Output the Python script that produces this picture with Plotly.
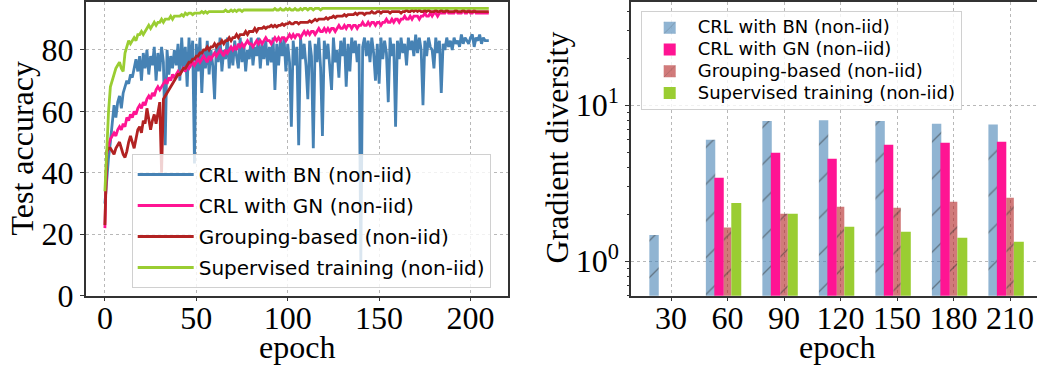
import plotly.graph_objects as go

# ---------------- data: left panel (test accuracy per epoch) ----------------
epochs = list(range(0, 211))

acc_bn = [
    30, 38, 45, 50, 55, 62, 58, 63, 65, 61,
    66, 68, 70, 69, 72, 71, 74, 77, 73, 78,
    70, 79, 74, 80, 72, 78, 75, 81, 70, 79,
    73, 81, 76, 49, 80, 72, 78, 74, 80, 75,
    82, 70, 84, 74, 81, 68, 84, 75, 83, 43,
    82, 73, 84, 66, 80, 74, 83, 72, 80, 75,
    64, 82, 76, 84, 73, 80, 77, 84, 74, 81,
    75, 83, 78, 74, 84, 76, 82, 73, 80, 77,
    84, 75, 81, 78, 84, 74, 82, 77, 83, 75,
    81, 76, 84, 67, 82, 75, 83, 78, 84, 73,
    82, 76, 55, 83, 75, 81, 49, 84, 77, 82,
    75, 64, 83, 78, 48, 82, 76, 84, 74, 52,
    83, 77, 82, 75, 67, 84, 76, 80, 71, 83,
    78, 84, 68, 82, 73, 84, 79, 83, 76, 82,
    11, 81, 84, 78, 83, 76, 84, 79, 70, 82,
    69, 84, 77, 83, 79, 63, 84, 78, 82, 55,
    83, 77, 84, 79, 82, 75, 84, 80, 83, 78,
    85, 79, 84, 80, 62, 83, 78, 84, 81, 80,
    74, 84, 79, 83, 66, 82, 80, 84, 81, 83,
    80, 84, 82, 83, 81, 85, 82, 84, 83, 82,
    84, 85, 81, 84, 83, 85, 82, 84, 83, 83,
    83,
]

acc_gn = [
    22, 46, 49, 51, 52, 53, 52, 54, 55, 54,
    56, 55, 58, 57, 59, 58, 60, 59, 61, 62,
    61, 63, 62, 64, 65, 64, 66, 65, 67, 68,
    67, 68, 69, 70, 69, 71, 70, 72, 71, 72,
    73, 72, 73, 74, 73, 75, 74, 75, 76, 75,
    76, 77, 76, 77, 78, 77, 76, 78, 77, 78,
    79, 78, 79, 80, 79, 78, 80, 79, 80, 81,
    80, 81, 80, 82, 81, 82, 81, 82, 83, 82,
    82, 81, 82, 83, 82, 83, 82, 83, 84, 83,
    83, 82, 83, 84, 83, 84, 83, 84, 84, 83,
    84, 85, 84, 85, 84, 85, 85, 84, 85, 86,
    85, 86, 85, 86, 86, 85, 86, 87, 86, 86,
    87, 86, 87, 86, 87, 87, 86, 87, 88, 87,
    87, 88, 87, 88, 88, 87, 88, 88, 87, 88,
    88, 89, 88, 88, 89, 88, 89, 89, 88, 89,
    89, 88, 89, 89, 90, 89, 89, 90, 89, 90,
    90, 89, 90, 90, 91, 90, 90, 91, 90, 91,
    91, 91, 90, 91, 91, 92, 91, 91, 92, 91,
    92, 92, 91, 92, 92, 92, 92, 93, 92, 92,
    92, 92, 93, 92, 92, 92, 93, 92, 92, 93,
    92, 92, 93, 92, 92, 92, 92, 92, 92, 92,
    92,
]

acc_group = [
    23, 47, 48, 48, 47, 46, 48, 49, 50, 48,
    46, 45, 47, 50, 52, 50, 48, 51, 54, 55,
    53, 57, 56, 61, 58, 54, 57, 59, 56, 60,
    63, 40, 64, 65, 66, 67, 68, 69, 70, 71,
    72, 72, 73, 74, 74, 75, 76, 76, 77, 77,
    78, 78, 79, 79, 80, 80, 81, 80, 81, 81,
    82, 81, 82, 82, 83, 82, 83, 83, 84, 83,
    84, 84, 85, 84, 85, 85, 85, 86, 85, 86,
    86, 86, 87, 86, 87, 87, 87, 87.5, 87, 87.5,
    87.5, 88, 87.5, 88, 87.5, 88, 88, 88.5, 88, 88.5,
    88.5, 89, 88.5, 88.5, 89, 89, 88.5, 89, 89, 89,
    89, 89, 89.5, 89, 89.5, 90, 89.5, 90, 90, 90,
    90, 90.5, 90, 90.5, 90.5, 91, 90.5, 91, 91, 91,
    91, 91.5, 91, 91.5, 91.5, 91.5, 91.5, 92, 91.5, 92,
    92, 92, 91.5, 92, 92, 92, 92.5, 92, 92, 92.5,
    92.5, 92, 92.5, 92.5, 92.5, 92.5, 92, 92.5, 92.5, 92.5,
    92.5, 92.5, 92, 92.5, 92.5, 93, 92.5, 92.5, 93, 92.5,
    93, 92.5, 93, 92.5, 92.5, 93, 92.5, 93, 92.5, 92.5,
    92.5, 93, 92.5, 92.5, 93, 92.5, 92.5, 93, 92.5, 92.5,
    92.5, 92.5, 93, 92.5, 92.5, 92.5, 93, 92.5, 92.5, 92.5,
    92.5, 92.5, 92.5, 92.5, 92.5, 92.5, 92.5, 92.5, 92.5, 92.5,
    92.5,
]

acc_sup = [
    34, 49, 60, 68, 70, 72, 74, 75, 76, 74,
    73, 79, 81, 83, 82, 83, 84, 83, 85, 85,
    86, 85, 86, 87, 88, 87, 88, 89, 88, 89,
    89, 90, 89, 90, 90, 90, 91, 90, 91, 91,
    91, 91, 91.5, 91, 92, 91.5, 92, 92, 91.5, 92,
    92, 92, 92, 92.5, 92, 92.5, 92, 92.5, 92.5, 92.5,
    92.5, 92.5, 92.5, 92.5, 92.5, 92.5, 93, 92.5, 92.5, 93,
    92.5, 93, 92.5, 93, 93, 92.5, 93, 93, 93, 93,
    93, 93, 93, 93, 93, 93, 93, 93, 93, 93,
    93, 93, 93, 93.5, 93, 93, 93.5, 93, 93, 93.5,
    93, 93.5, 93, 93, 93.5, 93, 93, 93.5, 93, 93.5,
    93.5, 93, 93.5, 93.5, 93, 93.5, 93.5, 93.5, 93, 93.5,
    93.5, 93.5, 93.5, 93.5, 93.5, 93.5, 93.5, 93.5, 93.5, 93.5,
    93.5, 93.5, 93.5, 93.5, 93.5, 93.5, 93.5, 93.5, 93.5, 93.5,
    93.5, 93.5, 93.5, 93.5, 93.5, 93.5, 93.5, 93.5, 93.5, 93.5,
    93.5, 93.5, 93.5, 93.5, 93.5, 93.5, 93.5, 93.5, 93.5, 93.5,
    93.5, 93.5, 93.5, 93.5, 93.5, 93.5, 93.5, 93.5, 93.5, 93.5,
    93.5, 93.5, 93.5, 93.5, 93.5, 93.5, 93.5, 93.5, 93.5, 93.5,
    93.5, 93.5, 93.5, 93.5, 93.5, 93.5, 93.5, 93.5, 93.5, 93.5,
    93.5, 93.5, 93.5, 93.5, 93.5, 93.5, 93.5, 93.5, 93.5, 93.5,
    93.5, 93.5, 93.5, 93.5, 93.5, 93.5, 93.5, 93.5, 93.5, 93.5,
    93.5,
]

# ---------------- data: right panel (gradient diversity) ----------------
bar_epochs = [30, 60, 90, 120, 150, 180, 210]
div_bn = [1.47, 6.0, 7.9, 8.0, 7.9, 7.6, 7.5]
div_gn = [None, 3.42, 4.95, 4.53, 5.57, 5.73, 5.82]
div_group = [None, 1.64, 2.01, 2.23, 2.20, 2.40, 2.55]
div_sup = [None, 2.36, 2.01, 1.66, 1.54, 1.41, 1.33]

names = ["CRL with BN (non-iid)", "CRL with GN (non-iid)",
         "Grouping-based (non-iid)", "Supervised training (non-iid)"]

W, H = 1037, 371
SERIF = "Liberation Serif"
SANS = "DejaVu Sans"

fig = go.Figure()

line_colors = ["#4682b4", "#ff1493", "#b22222", "#9acd32"]
for i, (ys, c) in enumerate(zip([acc_bn, acc_gn, acc_group, acc_sup], line_colors)):
    fig.add_trace(go.Scatter(
        x=epochs, y=ys, mode="lines", name=names[i],
        line=dict(color=c, width=2.8),
        xaxis="x", yaxis="y", legend="legend", legendgroup="g%d" % i,
    ))

bar_specs = [
    (div_bn, "rgba(70,130,180,0.6)", "/", -11.5, 5),
    (div_gn, "#ff1493", "", -7, 5),
    (div_group, "rgba(178,34,34,0.6)", "/", -2, 4),
    (div_sup, "#9acd32", "", 2, 5.3),
]
for i, (vals, c, hatch, off, wd) in enumerate(bar_specs):
    fig.add_trace(go.Bar(
        x=bar_epochs, y=vals,
        name='<span style="font-size:18px">%s</span>' % names[i],
        marker=dict(color=c, line=dict(width=0),
                    pattern=dict(shape=hatch, fgcolor="#333333", size=26,
                                 solidity=0.05, fillmode="overlay")),
        offset=off, width=wd,
        xaxis="x2", yaxis="y2", legend="legend2",
    ))

def px_x(p):
    return p / W

def px_y(p):
    return 1 - p / H

ax_top, ax_bot = 1.7, 295.7
grid = dict(showgrid=True, gridcolor="#b8b8b8", griddash="dot", gridwidth=1)
axline = dict(showline=True, linecolor="#333333", linewidth=1.5, automargin=False,
              ticks="outside", ticklen=4, tickcolor="#333333", tickwidth=1.2,
              tickfont=dict(family=SERIF, size=32, color="black"), zeroline=False)

fig.update_layout(
    width=W, height=H,
    margin=dict(l=0, r=0, t=0, b=0, pad=0, autoexpand=False),
    paper_bgcolor="white", plot_bgcolor="white",
    barmode="overlay",
    xaxis=dict(domain=[px_x(85.7), px_x(508)], range=[-10.5, 220.5],
               tickvals=[0, 50, 100, 150, 200], mirror=True, anchor="y",
               ticklabelstandoff=-11, **grid, **axline),
    yaxis=dict(domain=[px_y(ax_bot), px_y(ax_top)], range=[0, 95.7],
               tickvals=[0, 20, 40, 60, 80], mirror=True, anchor="x",
               **grid, **axline),
    xaxis2=dict(domain=[px_x(631), 1.0], range=[8.76, 224.3],
                tickvals=bar_epochs, mirror=True, anchor="y2",
                ticklabelstandoff=-11, **grid, **axline),
    yaxis2=dict(domain=[px_y(ax_bot), px_y(ax_top)], type="log",
                range=[-0.2218, 1.6628], tickvals=[1, 10],
                ticktext=["10<sup>0</sup>", "10<sup>1</sup>"],
                minor=dict(ticks="outside", ticklen=2.5, tickcolor="#333333",
                           tickvals=[0.6, 0.7, 0.8, 0.9, 2, 3, 4, 5, 6, 7, 8, 9,
                                     20, 30, 40], showgrid=False),
                mirror=False, anchor="x2", **grid, **axline),
    legend=dict(x=px_x(131.7), y=px_y(154), xanchor="left", yanchor="top",
                bgcolor="rgba(255,255,255,0.8)", bordercolor="#d0d0d0",
                borderwidth=1, font=dict(family=SANS, size=20, color="black"),
                tracegroupgap=2, itemwidth=56),
    legend2=dict(x=px_x(640.7), y=px_y(11), xanchor="left", yanchor="top",
                 bgcolor="rgba(255,255,255,0.8)", bordercolor="#d0d0d0",
                 borderwidth=1, font=dict(family=SANS, size=14.4, color="black"),
                 itemwidth=46),
    showlegend=True,
)

title_font = dict(family=SERIF, size=32, color="black")
fig.add_annotation(text="epoch", x=px_x(296.8), y=px_y(347), xref="paper", yref="paper",
                   showarrow=False, font=title_font, xanchor="center", yanchor="middle")
fig.add_annotation(text="epoch", x=px_x(836.7), y=px_y(347), xref="paper", yref="paper",
                   showarrow=False, font=title_font, xanchor="center", yanchor="middle")
fig.add_annotation(text="Test accuracy", x=px_x(22), y=px_y(148.5), xref="paper", yref="paper",
                   showarrow=False, font=title_font, textangle=-90,
                   xanchor="center", yanchor="middle")
fig.add_annotation(text="Gradient diversity", x=px_x(556), y=px_y(147.5), xref="paper",
                   yref="paper", showarrow=False, font=title_font, textangle=-90,
                   xanchor="center", yanchor="middle")

fig.write_html("out.html")
